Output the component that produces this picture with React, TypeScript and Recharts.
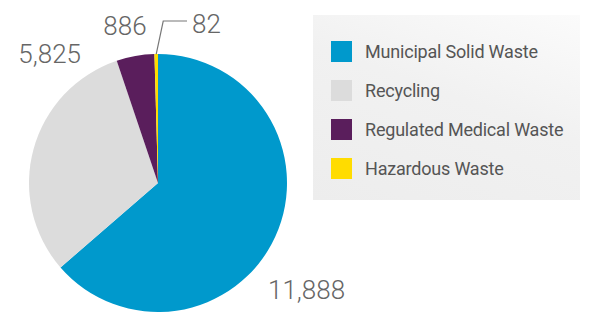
import { PieChart, Pie, Cell, Legend } from "recharts";

const categories = [
  "Municipal Solid Waste",
  "Recycling",
  "Regulated Medical Waste",
  "Hazardous Waste",
];
const values = [11888, 5825, 886, 82];
const colors = ["#0099cc", "#dcdcdc", "#5a1e5c", "#ffdc00"];

const data = categories.map((name, i) => ({ name, value: values[i] }));

// where each value label sits, relative to the pie centre
const labelSpots = [
  { dx: 110, dy: 116, anchor: "start" },
  { dx: -77, dy: -120, anchor: "end" },
  { dx: -33, dy: -148, anchor: "middle" },
  { dx: 34, dy: -150, anchor: "start" },
];

const RADIAN = Math.PI / 180;

const renderLabel = (props: any) => {
  const { cx, cy, midAngle, outerRadius, index, value } = props;
  const spot = labelSpots[index];
  const text = Number(value).toLocaleString("en-US");
  const tx = cx + spot.dx;
  const ty = cy + spot.dy;
  let leader = null;
  if (index === 3) {
    const sx = cx + outerRadius * Math.cos(-midAngle * RADIAN);
    const sy = cy + outerRadius * Math.sin(-midAngle * RADIAN);
    const bx = sx + 7;
    const by = sy - 33;
    leader = (
      <path
        d={`M${sx},${sy} L${bx},${by} L${tx - 5},${by}`}
        stroke="#777"
        strokeWidth={1.2}
        fill="none"
      />
    );
  }
  return (
    <g>
      {leader}
      <text
        x={tx}
        y={ty}
        textAnchor={spot.anchor}
        fill="#666"
        fontSize={26}
        fontWeight={300}
        fontFamily="Roboto, 'Liberation Sans', sans-serif"
      >
        {text}
      </text>
    </g>
  );
};

const LegendBox = () => (
  <div
    style={{
      width: 267,
      height: 185,
      boxSizing: "border-box",
      paddingTop: 17,
      paddingLeft: 18,
      background:
        "linear-gradient(20deg, #ededed 0%, #f1f1f1 55%, #fbfbfb 100%)",
    }}
  >
    {categories.map((c, i) => (
      <div
        key={c}
        style={{ display: "flex", alignItems: "center", height: 39 }}
      >
        <span
          style={{
            display: "inline-block",
            flex: "none",
            width: 21,
            height: 21,
            background: colors[i],
            marginRight: 13,
          }}
        />
        <span
          style={{
            fontFamily: "Roboto, 'Liberation Sans', sans-serif",
            fontSize: 18,
            letterSpacing: -0.2,
            whiteSpace: "nowrap",
            color: "#555",
          }}
        >
          {c}
        </span>
      </div>
    ))}
  </div>
);

export default function App() {
  return (
    <div style={{ position: "absolute", left: 0, top: 0, background: "#fff" }}>
      <PieChart width={590} height={312} margin={{ top: 0, right: 0, bottom: 0, left: 0 }}>
        <Pie
          data={data}
          dataKey="value"
          nameKey="name"
          cx={158}
          cy={183}
          outerRadius={129}
          startAngle={90}
          endAngle={-270}
          stroke="none"
          label={renderLabel}
          labelLine={false}
          isAnimationActive={false}
        >
          {data.map((d, i) => (
            <Cell key={d.name} fill={colors[i]} />
          ))}
        </Pie>
        <Legend
          content={<LegendBox />}
          wrapperStyle={{ position: "absolute", left: 313, top: 15, width: 267, height: 185 }}
        />
      </PieChart>
    </div>
  );
}
